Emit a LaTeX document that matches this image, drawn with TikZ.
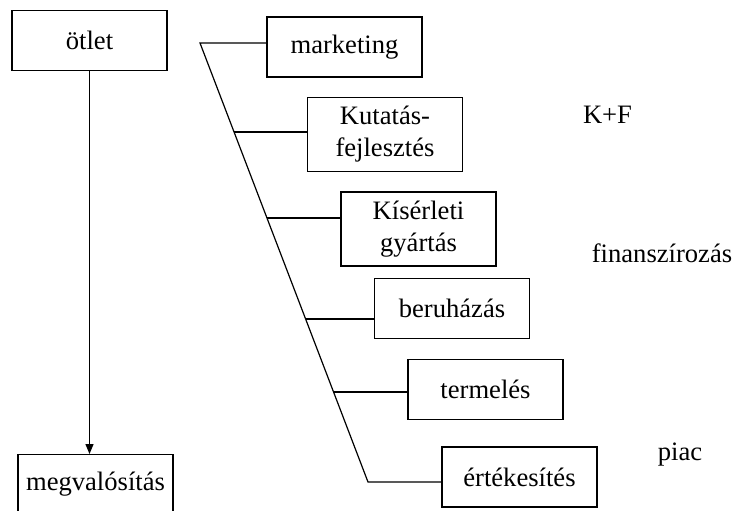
\documentclass[tikz,border=0pt]{standalone}
\usepackage{fontspec}
\setmainfont{Liberation Serif}
\usetikzlibrary{arrows.meta,calc}

\begin{document}
\begin{tikzpicture}[x=0.5pt, y=-0.5pt, line width=0.6pt,
    font=\fontsize{13.3}{16}\selectfont,
    stage/.style={draw, minimum width=77.5pt, minimum height=30pt, align=center, inner sep=2pt},
    tallstage/.style={stage, minimum height=37pt}]
  \useasboundingbox (0,0) rectangle (735,510);
  \node[stage] (idea) at (89.5,40.5) {ötlet};
  \node[stage, anchor=north] (realize) at (95.5,454) {megvalósítás};
  \draw[-{Triangle[length=5pt,width=4pt]}] (idea.south) -- (idea.south |- realize.north);

  \node[stage] (mkt) at (344.5,47) {marketing};
  \node[tallstage] (rnd) at (385,134.5) {Kutatás-\\fejlesztés};
  \node[tallstage] (pilot) at (418.5,229) {Kísérleti\\gyártás};
  \node[stage] (invest) at (452,308.5) {beruházás};
  \node[stage] (prod) at (485.5,389.5) {termelés};
  \node[stage] (sales) at (519.5,477) {értékesítés};

  \coordinate (funTop) at (200,43);
  \coordinate (funBot) at (368,482);
  \draw (funTop -| mkt.west) -- (funTop) -- (funBot) -- (funBot -| sales.west);
  \foreach \t/\n in {0.2027/rnd, 0.3986/pilot, 0.6287/invest, 0.795/prod}
    \draw ($(funTop)!\t!(funBot)$) coordinate (br\n) -- (br\n -| \n.west);

  \node[anchor=base] (kf) at (607.5,123) {K+F};
  \node[anchor=base] (fin) at (662,262) {finanszírozás};
  \node[anchor=base] (market) at (680,460) {piac};
\end{tikzpicture}
\end{document}
